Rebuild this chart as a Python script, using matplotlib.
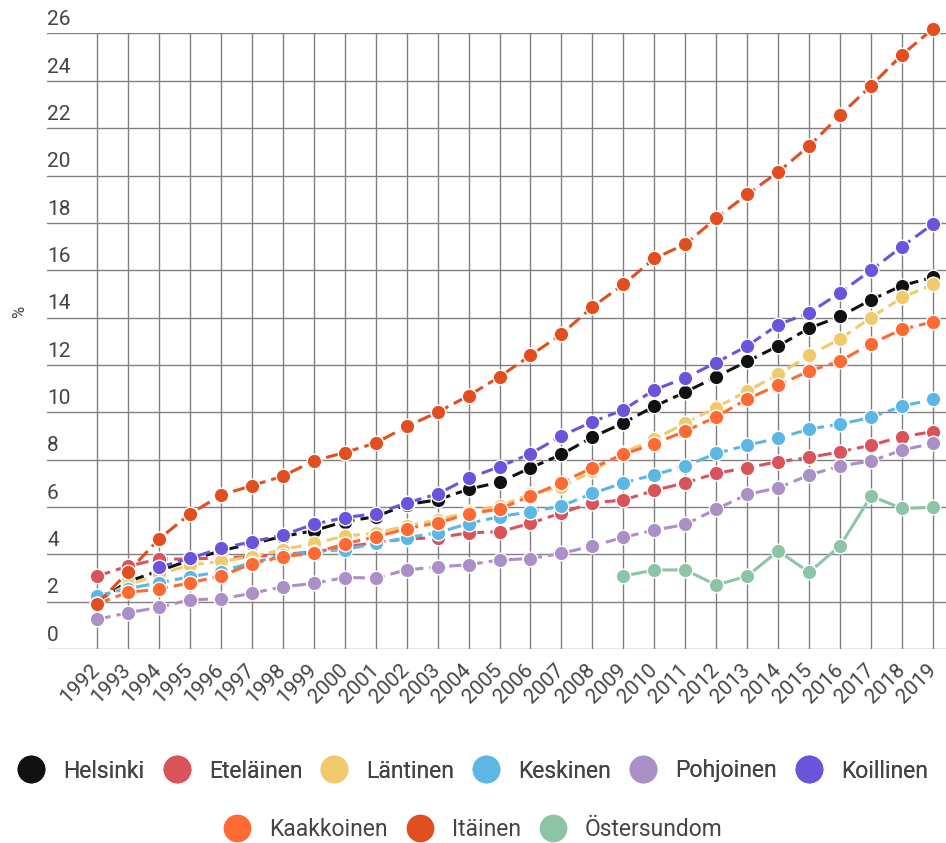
import numpy as np
import matplotlib.pyplot as plt
from matplotlib.lines import Line2D

plt.rcParams['font.family'] = ['Roboto', 'DejaVu Sans']

years = list(range(1992, 2020))

helsinki = [2.0, 2.85, 3.3, 3.75, 4.15, 4.45, 4.75, 5.0, 5.38, 5.59, 6.1, 6.3, 6.75, 7.05,
            7.65, 8.22, 8.95, 9.55, 10.25, 10.85, 11.5, 12.15, 12.8, 13.55, 14.05, 14.75, 15.35, 15.7]
etelainen = [3.08, 3.5, 3.8, 3.8, 3.85, 3.9, 4.0, 4.1, 4.3, 4.5, 4.65, 4.7, 4.91, 4.95,
             5.31, 5.75, 6.18, 6.29, 6.7, 7.02, 7.42, 7.66, 7.91, 8.09, 8.33, 8.61, 8.97, 9.18]
lantinen = [2.1, 2.7, 3.15, 3.55, 3.7, 3.9, 4.2, 4.46, 4.77, 4.9, 5.2, 5.45, 5.8, 6.04,
            6.55, 6.85, 7.5, 8.3, 8.85, 9.55, 10.2, 10.9, 11.6, 12.4, 13.1, 14.0, 14.85, 15.4]
keskinen = [2.25, 2.55, 2.8, 3.05, 3.27, 3.65, 3.95, 4.1, 4.2, 4.46, 4.7, 4.91, 5.3, 5.59,
            5.8, 6.04, 6.57, 7.02, 7.36, 7.73, 8.26, 8.61, 8.9, 9.29, 9.5, 9.78, 10.26, 10.54]
pohjoinen = [1.25, 1.53, 1.76, 2.08, 2.12, 2.35, 2.63, 2.77, 3.02, 3.0, 3.34, 3.47, 3.56, 3.76,
             3.82, 4.04, 4.35, 4.72, 5.02, 5.26, 5.91, 6.53, 6.81, 7.35, 7.73, 7.94, 8.4, 8.69]
koillinen = [None, None, 3.45, 3.83, 4.25, 4.53, 4.81, 5.27, 5.55, 5.72, 6.17, 6.55, 7.22, 7.7,
             8.25, 9.0, 9.6, 10.1, 10.95, 11.45, 12.1, 12.8, 13.7, 14.2, 15.05, 16.0, 17.0, 17.95]
kaakkoinen = [1.9, 2.4, 2.52, 2.8, 3.08, 3.6, 3.9, 4.05, 4.44, 4.74, 5.08, 5.33, 5.7, 5.92,
              6.46, 7.03, 7.66, 8.22, 8.68, 9.2, 9.81, 10.56, 11.15, 11.74, 12.16, 12.9, 13.5, 13.82]
itainen = [1.9, 3.25, 4.65, 5.7, 6.5, 6.9, 7.3, 7.95, 8.3, 8.7, 9.4, 10.0, 10.7, 11.5,
           12.4, 13.3, 14.45, 15.4, 16.5, 17.1, 18.2, 19.2, 20.15, 21.25, 22.55, 23.8, 25.1, 26.2]
ostersundom = [None] * 17 + [3.08, 3.34, 3.34, 2.7, 3.08, 4.14, 3.24, 4.36, 6.46, 5.94, 5.98]

names = ['Helsinki', 'Eteläinen', 'Läntinen', 'Keskinen', 'Pohjoinen', 'Koillinen',
         'Kaakkoinen', 'Itäinen', 'Östersundom']
series = [helsinki, etelainen, lantinen, keskinen, pohjoinen, koillinen,
          kaakkoinen, itainen, ostersundom]
colors = ['#111111', '#D9535B', '#F1CA6C', '#5DB7E4', '#AB8FC7', '#6B53DC',
          '#FF6A33', '#E24E20', '#8DC4A6']

fig = plt.figure(figsize=(9.46, 8.43), dpi=100)
ax = fig.add_axes([47/946, 1-649/843, 899/946, (649-33.5)/843])

for i, (name, vals, c) in enumerate(zip(names, series, colors)):
    y = np.array([np.nan if v is None else v for v in vals], dtype=float)
    ls = '-' if name == 'Östersundom' else '--'
    line, = ax.plot(years, y, color=c, lw=2.2, ls=ls, marker='o', markersize=10.5,
                    markeredgecolor='white', markeredgewidth=1.0, zorder=3 + i, clip_on=False)
    if ls == '--':
        line.set_dashes((4.5, 2.0))

ax.set_xlim(1992 - 50/30.95, 2019 + 13/30.95)
ax.set_ylim(0, 26)
yticks = list(range(0, 27, 2))
ax.set_yticks(yticks)
ax.set_yticklabels([])
ax.set_xticks(years)
ax.set_xticklabels([str(y) for y in years], rotation=45, ha='right', va='center',
                   rotation_mode='anchor', fontsize=15, color='#444444')
ax.tick_params(axis='both', length=0)
ax.tick_params(axis='x', pad=13)
ax.grid(True, color='#808080', lw=1.0)
for s in ax.spines.values():
    s.set_visible(False)

for v in yticks:
    ax.annotate(str(v), xy=(0, v), xycoords=ax.get_yaxis_transform(), xytext=(0, 3),
                textcoords='offset points', ha='left', va='bottom', fontsize=15, color='#444444')

fig.text(20/946, 1-312/843, '%', rotation=90, ha='center', va='center', fontsize=12, color='#444444')

handles = [Line2D([], [], ls='none', marker='o', markersize=20, color=c, markeredgewidth=0)
           for c in colors]
leg_kw = dict(loc='center', frameon=False, fontsize=16.5, handlelength=1.0, handletextpad=0.9,
              columnspacing=0.9, labelcolor='#444444')
leg1 = fig.legend(handles[:6], names[:6], bbox_to_anchor=(474/946, 1-771/843), ncol=6, **leg_kw)
fig.add_artist(leg1)
fig.legend(handles[6:], names[6:], bbox_to_anchor=(474/946, 1-830/843), ncol=3, **leg_kw)

fig.savefig('out.png', dpi=100)
